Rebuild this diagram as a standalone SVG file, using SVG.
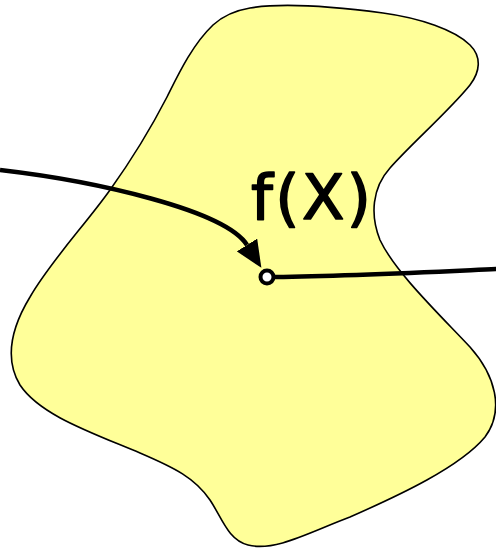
<svg xmlns="http://www.w3.org/2000/svg" width="496" height="549" viewBox="0 0 496 549">
<style>
.blob{fill:#ffff99;stroke:#000;stroke-width:1.6}
.conn{fill:none;stroke:#000;stroke-width:4.5}
.lbl{font-family:"DejaVu Sans","Liberation Sans",sans-serif;font-size:62px;fill:#000;stroke:#000;stroke-width:1.6;stroke-linejoin:round}
</style>
<defs>
<marker id="ah" markerUnits="userSpaceOnUse" viewBox="0 0 27 24" refX="0" refY="12" markerWidth="27" markerHeight="24" orient="auto">
<path d="M0,0 L27,12 L0,24 Z" fill="#000"/>
</marker>
</defs>
<g id="region">
<path class="blob" d="M250,8 C280,3 330,6 383,13 C420,18 455,30 470,45 C482,57 480,72 470,85 C450,110 410,145 390,168 C372,188 370,215 380,240 C395,272 440,315 470,347 C495,375 505,410 485,437 C460,467 400,495 350,517 C310,532 275,552 248,545 C228,540 222,518 210,500 C195,478 175,468 140,453 C90,432 40,415 20,385 C5,360 10,330 30,297 C50,262 85,225 110,190 C130,162 150,130 167,97 C178,75 192,45 213,25 C225,14 238,10 250,8 Z"/>
</g>
<g id="label">
<text class="lbl" x="251" y="219" textLength="120">f(X)</text>
</g>
<g id="connectors">
<path class="conn" d="M0,170 C95,181 225,210 247,245" marker-end="url(#ah)"/>
<path class="conn" d="M275,277 C350,276 430,272 497,269"/>
</g>
<g id="point">
<circle cx="267" cy="277" r="6.5" fill="#fff" stroke="#000" stroke-width="4"/>
</g>
</svg>
